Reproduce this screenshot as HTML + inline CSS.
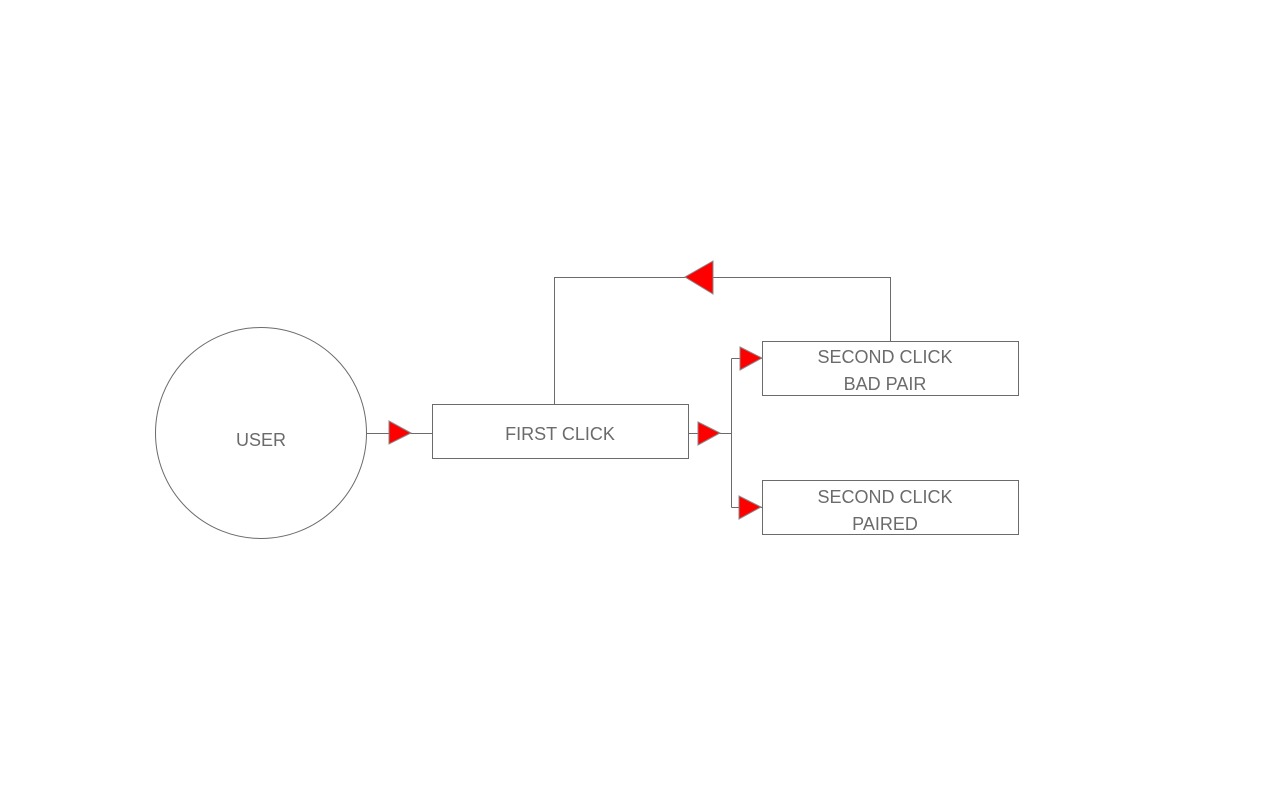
<!DOCTYPE html>
<html><head><style>html,body{margin:0;background:#fff}</style></head><body>
<svg width="1280" height="800" xmlns="http://www.w3.org/2000/svg" font-family="'Segoe UI','Liberation Sans',sans-serif" font-size="18" fill="#6b6b6b">
<g stroke="#6b6b6b" stroke-width="1" fill="none">
<circle cx="261" cy="433" r="105.5"/>
<rect x="432.5" y="404.5" width="256" height="54"/>
<rect x="762.5" y="341.5" width="256" height="54"/>
<rect x="762.5" y="480.5" width="256" height="54"/>
<path d="M367 433.5H432"/>
<path d="M689 433.5H731.5"/>
<path d="M731.5 358.5V507.5"/>
<path d="M731.5 358.5H762M731.5 507.5H762"/>
<path d="M554.5 404V277.5H890.5V341"/>
</g>
<g fill="#ff0000" stroke="#888" stroke-width="1">
<polygon points="389,421 411,433 389,444"/>
<polygon points="698,422 720,433 698,445"/>
<polygon points="740,347 762,358 740,370"/>
<polygon points="739,496 761,507 739,519"/>
<polygon points="713,261 685,277 713,294"/>
</g>
<g text-anchor="middle" fill="#6b6b6b">
<text x="261" y="446">USER</text>
<text x="560" y="440">FIRST CLICK</text>
<text x="885" y="363">SECOND CLICK</text>
<text x="885" y="390">BAD PAIR</text>
<text x="885" y="503">SECOND CLICK</text>
<text x="885" y="530">PAIRED</text>
</g>
</svg>
</body></html>
